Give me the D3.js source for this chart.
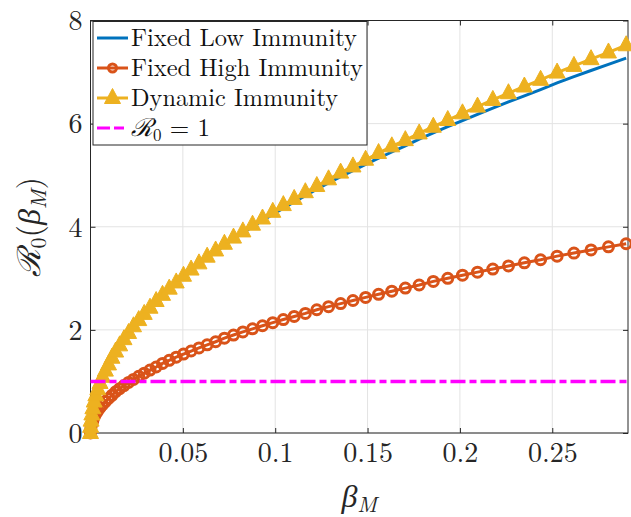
<!DOCTYPE html>
<html>
<head>
<meta charset="utf-8">
<script src="https://cdn.jsdelivr.net/npm/d3@7"></script>
<style>
  html, body { margin: 0; padding: 0; background: #fff; }
  svg { display: block; }
</style>
</head>
<body>
<div id="chart"></div>
<script>
// beta_M grid
const betaM = [0, 0.00008, 0.00032, 0.00073, 0.00129, 0.00201, 0.00290, 0.00395, 0.00516, 0.00653,
  0.00806, 0.00975, 0.01160, 0.01361, 0.01579, 0.01813, 0.02062, 0.02328, 0.02610, 0.02908,
  0.03222, 0.03553, 0.03899, 0.04262, 0.04640, 0.05035, 0.05446, 0.05873, 0.06316, 0.06775,
  0.07250, 0.07742, 0.08249, 0.08773, 0.09312, 0.09868, 0.10440, 0.11028, 0.11632, 0.12253,
  0.12889, 0.13542, 0.14210, 0.14895, 0.15596, 0.16313, 0.17046, 0.17795, 0.18560, 0.19342,
  0.20139, 0.20953, 0.21782, 0.22628, 0.23490, 0.24368, 0.25262, 0.26173, 0.27099, 0.28042,
  0.29000];

const fixedLow = [0, 0.12, 0.24, 0.36, 0.48, 0.61, 0.73, 0.85, 0.97, 1.09,
  1.21, 1.33, 1.45, 1.58, 1.70, 1.82, 1.94, 2.06, 2.18, 2.30,
  2.42, 2.54, 2.67, 2.79, 2.91, 3.03, 3.15, 3.27, 3.39, 3.51,
  3.64, 3.76, 3.88, 4.00, 4.12, 4.24, 4.36, 4.48, 4.60, 4.73,
  4.85, 4.97, 5.09, 5.21, 5.33, 5.45, 5.57, 5.70, 5.82, 5.94,
  6.06, 6.18, 6.30, 6.42, 6.54, 6.66, 6.79, 6.91, 7.03, 7.15,
  7.27];

const fixedHigh = [0, 0.06, 0.12, 0.18, 0.24, 0.31, 0.37, 0.43, 0.49, 0.55,
  0.61, 0.67, 0.73, 0.80, 0.86, 0.92, 0.98, 1.04, 1.10, 1.16,
  1.22, 1.28, 1.35, 1.41, 1.47, 1.53, 1.59, 1.65, 1.71, 1.77,
  1.84, 1.90, 1.96, 2.02, 2.08, 2.14, 2.20, 2.26, 2.32, 2.39,
  2.45, 2.51, 2.57, 2.63, 2.69, 2.75, 2.81, 2.87, 2.94, 3.00,
  3.06, 3.12, 3.18, 3.24, 3.30, 3.36, 3.43, 3.49, 3.55, 3.61,
  3.67];

const dynamicImm = [0, 0.12, 0.24, 0.36, 0.48, 0.61, 0.73, 0.85, 0.97, 1.09,
  1.21, 1.33, 1.46, 1.58, 1.70, 1.82, 1.94, 2.07, 2.19, 2.31,
  2.43, 2.56, 2.68, 2.80, 2.92, 3.05, 3.17, 3.29, 3.42, 3.54,
  3.67, 3.79, 3.91, 4.04, 4.16, 4.29, 4.42, 4.54, 4.67, 4.79,
  4.92, 5.05, 5.17, 5.30, 5.43, 5.56, 5.68, 5.81, 5.94, 6.07,
  6.20, 6.33, 6.46, 6.59, 6.72, 6.85, 6.99, 7.12, 7.25, 7.38,
  7.52];

const r0Threshold = 1;

const xTicks = [0.05, 0.1, 0.15, 0.2, 0.25];
const yTicks = [0, 2, 4, 6, 8];
const legendNames = ["Fixed Low Immunity", "Fixed High Immunity", "Dynamic Immunity", "R0"];

const width = 631, height = 517;
const blue = "#0072BD", orange = "#D95319", yellow = "#EDB120", magenta = "#FF00FF";
const serif = "'Latin Modern Roman', 'Liberation Serif', serif";

const x = d3.scaleLinear().domain([0, 0.291]).range([90.5, 628]);
const y = d3.scaleLinear().domain([0, 8]).range([433, 20.5]);
const [x0, x1] = x.range();
const [yb, yt] = y.range();

const svg = d3.select("#chart").append("svg")
  .attr("width", width).attr("height", height)
  .attr("viewBox", [0, 0, width, height]);

// grid
const grid = svg.append("g").attr("stroke", "#e3e3e3").attr("stroke-width", 1);
grid.selectAll(".gx").data(xTicks).join("line")
  .attr("x1", d => x(d)).attr("x2", d => x(d)).attr("y1", yb).attr("y2", yt);
grid.selectAll(".gy").data(yTicks).join("line")
  .attr("x1", x0).attr("x2", x1).attr("y1", d => y(d)).attr("y2", d => y(d));

// axes (ticks point inward)
const fmt = d => String(d);
const xAxis = svg.append("g").attr("transform", `translate(0,${yb})`)
  .call(d3.axisBottom(x).tickValues(xTicks).tickFormat(fmt).tickSizeInner(-5).tickSizeOuter(0).tickPadding(12));
const xAxisTop = svg.append("g").attr("transform", `translate(0,${yt})`)
  .call(d3.axisTop(x).tickValues(xTicks).tickFormat("").tickSizeInner(-5).tickSizeOuter(0));
const yAxis = svg.append("g").attr("transform", `translate(${x0},0)`)
  .call(d3.axisLeft(y).tickValues(yTicks).tickFormat(fmt).tickSizeInner(-5).tickSizeOuter(0).tickPadding(8));
const yAxisRight = svg.append("g").attr("transform", `translate(${x1},0)`)
  .call(d3.axisRight(y).tickValues(yTicks).tickFormat("").tickSizeInner(-5).tickSizeOuter(0));

[xAxis, xAxisTop, yAxis, yAxisRight].forEach(g => {
  g.select(".domain").remove();
  g.attr("font-family", serif);
  g.selectAll(".tick line").attr("stroke", "#262626");
  g.selectAll("text").attr("font-size", 28).attr("fill", "#262626");
});
xAxis.selectAll("text").attr("dy", "0.6em");
yAxis.selectAll("text").attr("dy", "0.33em");

svg.append("rect")
  .attr("x", x0).attr("y", yt).attr("width", x1 - x0).attr("height", yb - yt)
  .attr("fill", "none").attr("stroke", "#262626").attr("stroke-width", 1);

// series
const pts = ys => betaM.map((b, i) => [b, ys[i]]);
const line = d3.line().x(d => x(d[0])).y(d => y(d[1]));

const triangle = "M0,-9.5L8,5.5L-8,5.5Z";

const plot = svg.append("g");
plot.append("path").datum(pts(fixedLow))
  .attr("d", line).attr("fill", "none").attr("stroke", blue).attr("stroke-width", 3);

plot.append("path").datum(pts(fixedHigh))
  .attr("d", line).attr("fill", "none").attr("stroke", orange).attr("stroke-width", 3);
plot.append("g").selectAll("circle").data(pts(fixedHigh)).join("circle")
  .attr("cx", d => x(d[0])).attr("cy", d => y(d[1])).attr("r", 5)
  .attr("fill", "none").attr("stroke", orange).attr("stroke-width", 3);

plot.append("path").datum(pts(dynamicImm))
  .attr("d", line).attr("fill", "none").attr("stroke", yellow).attr("stroke-width", 3);
plot.append("g").selectAll("path").data(pts(dynamicImm)).join("path")
  .attr("d", triangle)
  .attr("transform", d => `translate(${x(d[0])},${y(d[1])})`)
  .attr("fill", yellow).attr("stroke", yellow).attr("stroke-width", 1);

plot.append("line")
  .attr("x1", x(betaM[0])).attr("x2", x1)
  .attr("y1", y(r0Threshold)).attr("y2", y(r0Threshold))
  .attr("stroke", magenta).attr("stroke-width", 3.5)
  .attr("stroke-dasharray", "15,4,7,4");

// axis labels
const xLabel = svg.append("text")
  .attr("x", (x0 + x1) / 2).attr("y", 507).attr("font-family", serif)
  .attr("text-anchor", "middle").attr("font-size", 32).attr("fill", "#262626");
xLabel.append("tspan").attr("font-style", "italic").text("β");
xLabel.append("tspan").attr("font-style", "italic").attr("font-size", 22).attr("dy", 5).text("M");

const yLabel = svg.append("text").attr("font-family", serif).attr("fill", "#262626")
  .attr("transform", `translate(40,${(yt + yb) / 2}) rotate(-90)`)
  .attr("text-anchor", "middle").attr("font-size", 32);
yLabel.append("tspan").attr("font-style", "italic").text("ℛ");
yLabel.append("tspan").attr("font-size", 22).attr("dy", 6).text("0");
yLabel.append("tspan").attr("dy", -6).text("(");
yLabel.append("tspan").attr("font-style", "italic").text("β");
yLabel.append("tspan").attr("font-style", "italic").attr("font-size", 22).attr("dy", 6).text("M");
yLabel.append("tspan").attr("dy", -6).text(")");

// legend
const legend = svg.append("g").attr("font-family", serif);
legend.append("rect")
  .attr("x", 93).attr("y", 21.5).attr("width", 274).attr("height", 123.5)
  .attr("fill", "#fff").attr("stroke", "#262626").attr("stroke-width", 1);

const legendY = [38, 68, 98, 128];
const legendWidths = [226, 232, 207, 73];
const legendStyles = [
  {color: blue, marker: null, dash: null},
  {color: orange, marker: "circle", dash: null},
  {color: yellow, marker: "triangle", dash: null},
  {color: magenta, marker: null, dash: "13,4,10"}
];

legendNames.forEach((name, i) => {
  const g = legend.append("g").attr("transform", `translate(0,${legendY[i]})`);
  const st = legendStyles[i];
  g.append("line").attr("x1", 97).attr("x2", 128).attr("y1", 0).attr("y2", 0)
    .attr("stroke", st.color).attr("stroke-width", 3)
    .attr("stroke-dasharray", st.dash);
  if (st.marker === "circle") {
    g.append("circle").attr("cx", 112.5).attr("cy", 0).attr("r", 4)
      .attr("fill", "none").attr("stroke", st.color).attr("stroke-width", 3);
  } else if (st.marker === "triangle") {
    g.append("path").attr("d", triangle).attr("transform", "translate(112.5,0)")
      .attr("fill", st.color).attr("stroke", st.color).attr("stroke-width", 1);
  }
  const t = g.append("text").attr("x", 131).attr("y", 8).attr("font-size", 25).attr("fill", "#111");
  if (name === "R0") {
    t.append("tspan").attr("font-style", "italic").text("ℛ");
    t.append("tspan").attr("font-size", 17).attr("dy", 5).text("0");
    t.append("tspan").attr("dy", -5).text(" = 1");
  } else {
    t.attr("textLength", legendWidths[i]).attr("lengthAdjust", "spacingAndGlyphs").text(name);
  }
});
</script>
</body>
</html>
